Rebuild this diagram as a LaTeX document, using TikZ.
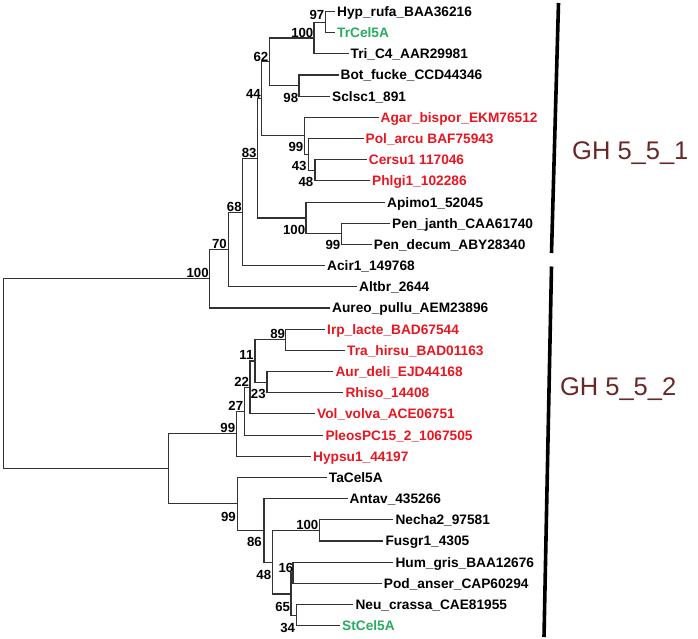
\documentclass[tikz,border=0pt]{standalone}
\usepackage{fontspec}
\setmainfont{Liberation Sans}
\usetikzlibrary{calc}
\definecolor{redlab}{RGB}{232,22,32}
\definecolor{greenlab}{RGB}{40,172,95}
\definecolor{grpcol}{RGB}{105,40,40}
\definecolor{brcol}{RGB}{50,50,50}
\newcommand\leaffont{\fontsize{13.7}{14}\selectfont\bfseries}
\newcommand\bsfont{\fontsize{13.2}{13.5}\selectfont\bfseries}
\newcommand\grpfont{\fontsize{25.5}{26}\selectfont}
\tikzset{
  br/.style={draw=brcol, line width=1.1pt},
  leaf/.style={anchor=base west, inner sep=0pt, font=\leaffont, text=black},
  rleaf/.style={leaf, text=redlab},
  gleaf/.style={leaf, text=greenlab},
  bs/.style={anchor=east, inner sep=0pt, font=\bsfont},
  grp/.style={anchor=base west, inner sep=0pt, font=\grpfont, text=grpcol},
  bar/.style={draw=black, line width=3.6pt}
}
\begin{document}
\begin{tikzpicture}[x=1pt,y=-1pt]
\useasboundingbox (0,0) rectangle (698,639);
% leaf line ends
\coordinate (L1) at (335,11.5);
\coordinate (L2) at (335,32.68);
\coordinate (L3) at (348.5,53.86);
\coordinate (L4) at (338.5,75.04);
\coordinate (L5) at (330,96.22);
\coordinate (L6) at (378.5,117.40);
\coordinate (L7) at (363.5,138.58);
\coordinate (L8) at (366.7,159.76);
\coordinate (L9) at (370,180.94);
\coordinate (L10) at (385,202.12);
\coordinate (L11) at (390,223.30);
\coordinate (L12) at (371.7,244.48);
\coordinate (L13) at (325,265.66);
\coordinate (L14) at (357,286.84);
\coordinate (L15) at (330,308.02);
\coordinate (L16) at (325,329.20);
\coordinate (L17) at (345,350.38);
\coordinate (L18) at (333.3,371.56);
\coordinate (L19) at (343.3,392.74);
\coordinate (L20) at (315,413.92);
\coordinate (L21) at (323.3,435.10);
\coordinate (L22) at (311,456.28);
\coordinate (L23) at (326.7,477.46);
\coordinate (L24) at (347.5,498.64);
\coordinate (L25) at (393.3,519.82);
\coordinate (L26) at (383.3,541.00);
\coordinate (L27) at (393.3,562.18);
\coordinate (L28) at (381.7,583.36);
\coordinate (L29) at (353.3,604.54);
\coordinate (L30) at (340,625.72);
% internal nodes
\coordinate (n97) at (325.7,22.09);
\coordinate (n100a) at (314,37.98);
\coordinate (n98) at (299,85.63);
\coordinate (n62) at (269.3,61.81);
\coordinate (n48) at (315,170.35);
\coordinate (n43) at (308.3,154.47);
\coordinate (n99a) at (304.3,135.94);
\coordinate (n44) at (261.7,98.87);
\coordinate (n99b) at (341.7,233.89);
\coordinate (n100b) at (306,218.01);
\coordinate (n83) at (257.3,158.44);
\coordinate (n68) at (242.7,212.05);
\coordinate (n70) at (228.3,249.45);
\coordinate (n100c) at (209.3,278.73);
\coordinate (n89) at (285.7,339.79);
\coordinate (n23) at (267,382.15);
\coordinate (n11) at (255,360.97);
\coordinate (n22) at (250,387.45);
\coordinate (n27) at (244.5,411.28);
\coordinate (n99c) at (236.5,433.78);
\coordinate (n100d) at (319.3,530.41);
\coordinate (n16) at (293,572.77);
\coordinate (n34) at (296.7,615.13);
\coordinate (n65) at (291,593.95);
\coordinate (n48b) at (272.7,562.18);
\coordinate (n86) at (264,530.41);
\coordinate (n99d) at (237.3,503.94);
\coordinate (nGH2) at (168.3,468.86);
\coordinate (root) at (3.5,373.8);
% branches
\draw[br] (n97) |- (L1);
\draw[br] (n97) |- (L2);
\draw[br] (n100a) |- (n97);
\draw[br] (n100a) |- (L3);
\draw[br] (n98) |- (L4);
\draw[br] (n98) |- (L5);
\draw[br] (n62) |- (n100a);
\draw[br] (n62) |- (n98);
\draw[br] (n48) |- (L8);
\draw[br] (n48) |- (L9);
\draw[br] (n43) |- (L7);
\draw[br] (n43) |- (n48);
\draw[br] (n99a) |- (L6);
\draw[br] (n99a) |- (n43);
\draw[br] (n44) |- (n62);
\draw[br] (n44) |- (n99a);
\draw[br] (n99b) |- (L11);
\draw[br] (n99b) |- (L12);
\draw[br] (n100b) |- (L10);
\draw[br] (n100b) |- (n99b);
\draw[br] (n83) |- (n44);
\draw[br] (n83) |- (n100b);
\draw[br] (n68) |- (n83);
\draw[br] (n68) |- (L13);
\draw[br] (n70) |- (n68);
\draw[br] (n70) |- (L14);
\draw[br] (n100c) |- (n70);
\draw[br] (n100c) |- (L15);
\draw[br] (n89) |- (L16);
\draw[br] (n89) |- (L17);
\draw[br] (n23) |- (L18);
\draw[br] (n23) |- (L19);
\draw[br] (n11) |- (n89);
\draw[br] (n11) |- (n23);
\draw[br] (n22) |- (n11);
\draw[br] (n22) |- (L20);
\draw[br] (n27) |- (n22);
\draw[br] (n27) |- (L21);
\draw[br] (n99c) |- (n27);
\draw[br] (n99c) |- (L22);
\draw[br] (n100d) |- (L25);
\draw[br] (n100d) |- (L26);
\draw[br] (n16) |- (L27);
\draw[br] (n16) |- (L28);
\draw[br] (n34) |- (L29);
\draw[br] (n34) |- (L30);
\draw[br] (n65) |- (n16);
\draw[br] (n65) |- (n34);
\draw[br] (n48b) |- (n100d);
\draw[br] (n48b) |- (n65);
\draw[br] (n86) |- (L24);
\draw[br] (n86) |- (n48b);
\draw[br] (n99d) |- (L23);
\draw[br] (n99d) |- (n86);
\draw[br] (nGH2) |- (n99c);
\draw[br] (nGH2) |- (n99d);
\draw[br] (root) |- (n100c);
\draw[br] (root) |- (nGH2);
% leaf labels
\node[leaf]  (T1)  at ($(L1)+(2,4.9)$)  {Hyp\_rufa\_BAA36216};
\node[gleaf] (T2)  at ($(L2)+(2,4.9)$)  {TrCel5A};
\node[leaf]  (T3)  at ($(L3)+(2,4.9)$)  {Tri\_C4\_AAR29981};
\node[leaf]  (T4)  at ($(L4)+(2,4.9)$)  {Bot\_fucke\_CCD44346};
\node[leaf]  (T5)  at ($(L5)+(2,4.9)$)  {Sclsc1\_891};
\node[rleaf] (T6)  at ($(L6)+(2,4.9)$)  {Agar\_bispor\_EKM76512};
\node[rleaf] (T7)  at ($(L7)+(2,4.9)$)  {Pol\_arcu BAF75943};
\node[rleaf] (T8)  at ($(L8)+(2,4.9)$)  {Cersu1 117046};
\node[rleaf] (T9)  at ($(L9)+(2,4.9)$)  {Phlgi1\_102286};
\node[leaf]  (T10) at ($(L10)+(2,4.9)$) {Apimo1\_52045};
\node[leaf]  (T11) at ($(L11)+(2,4.9)$) {Pen\_janth\_CAA61740};
\node[leaf]  (T12) at ($(L12)+(2,4.9)$) {Pen\_decum\_ABY28340};
\node[leaf]  (T13) at ($(L13)+(2,4.9)$) {Acir1\_149768};
\node[leaf]  (T14) at ($(L14)+(2,4.9)$) {Altbr\_2644};
\node[leaf]  (T15) at ($(L15)+(2,4.9)$) {Aureo\_pullu\_AEM23896};
\node[rleaf] (T16) at ($(L16)+(2,4.9)$) {Irp\_lacte\_BAD67544};
\node[rleaf] (T17) at ($(L17)+(2,4.9)$) {Tra\_hirsu\_BAD01163};
\node[rleaf] (T18) at ($(L18)+(2,4.9)$) {Aur\_deli\_EJD44168};
\node[rleaf] (T19) at ($(L19)+(2,4.9)$) {Rhiso\_14408};
\node[rleaf] (T20) at ($(L20)+(2,4.9)$) {Vol\_volva\_ACE06751};
\node[rleaf] (T21) at ($(L21)+(2,4.9)$) {PleosPC15\_2\_1067505};
\node[rleaf] (T22) at ($(L22)+(2,4.9)$) {Hypsu1\_44197};
\node[leaf]  (T23) at ($(L23)+(2,4.9)$) {TaCel5A};
\node[leaf]  (T24) at ($(L24)+(2,4.9)$) {Antav\_435266};
\node[leaf]  (T25) at ($(L25)+(2,4.9)$) {Necha2\_97581};
\node[leaf]  (T26) at ($(L26)+(2,4.9)$) {Fusgr1\_4305};
\node[leaf]  (T27) at ($(L27)+(2,4.9)$) {Hum\_gris\_BAA12676};
\node[leaf]  (T28) at ($(L28)+(2,4.9)$) {Pod\_anser\_CAP60294};
\node[leaf]  (T29) at ($(L29)+(2,4.9)$) {Neu\_crassa\_CAE81955};
\node[gleaf] (T30) at ($(L30)+(2,4.9)$) {StCel5A};
% bootstrap values
\node[bs] (b97)   at (324.5,15)   {97};
\node[bs] (b100a) at (313.5,32.5) {100};
\node[bs] (b62)   at (268.5,57.2) {62};
\node[bs] (b98)   at (298.3,97.5) {98};
\node[bs] (b44)   at (261,93.5)   {44};
\node[bs] (b99a)  at (303.5,147)  {99};
\node[bs] (b43)   at (306.7,166.2) {43};
\node[bs] (b48)   at (313.5,182)  {48};
\node[bs] (b83)   at (256.7,152.5) {83};
\node[bs] (b100b) at (305.3,229.5) {100};
\node[bs] (b99b)  at (340.5,245)  {99};
\node[bs] (b68)   at (241.8,206.7) {68};
\node[bs] (b70)   at (227,244.3)  {70};
\node[bs] (b100c) at (208.8,273)  {100};
\node[bs] (b89)   at (285.2,334.2) {89};
\node[bs] (b11)   at (253.6,355.3) {11};
\node[bs] (b23)   at (265.8,393.8) {23};
\node[bs] (b22)   at (249.2,382)  {22};
\node[bs] (b27)   at (243.3,405.7) {27};
\node[bs] (b99c)  at (235.3,428)  {99};
\node[bs] (b99d)  at (236,516.7)  {99};
\node[bs] (b86)   at (262,542.3)  {86};
\node[bs] (b100d) at (318.5,525.3) {100};
\node[bs] (b48b)  at (271.3,574.7) {48};
\node[bs] (b16)   at (293.5,567.7) {16};
\node[bs] (b65)   at (290.2,606.7) {65};
\node[bs] (b34)   at (295.2,627.7) {34};
% group bars and labels
\coordinate (barAtop) at (558.5,3);
\coordinate (barAbot) at (551.5,253);
\coordinate (barBtop) at (551.5,266.5);
\coordinate (barBbot) at (544,637);
\draw[bar] (barAtop) -- (barAbot);
\draw[bar] (barBtop) -- (barBbot);
\node[grp] (gh1) at (572,159.3) {GH 5\_5\_1};
\node[grp] (gh2) at (559.8,395) {GH 5\_5\_2};
\end{tikzpicture}
\end{document}
